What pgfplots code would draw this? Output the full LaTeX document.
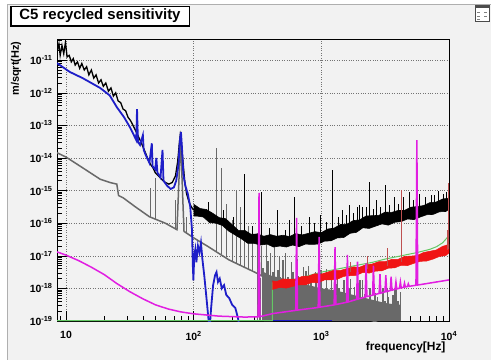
\documentclass[border=0pt]{standalone}
\usepackage{fontspec}
\setmainfont{Liberation Sans}
\usepackage{pgfplots}
\pgfplotsset{compat=1.18}
\definecolor{canvas}{RGB}{242,242,242}
\definecolor{edgegray}{RGB}{175,175,175}
\definecolor{sgray}{RGB}{105,105,105}
\definecolor{sblue}{RGB}{30,30,200}
\definecolor{smag}{RGB}{225,30,225}
\definecolor{sred}{RGB}{240,20,20}
\definecolor{sgreen}{RGB}{100,200,100}
\definecolor{sdred}{RGB}{190,80,80}
\begin{document}
\begin{tikzpicture}
\useasboundingbox (-57bp,-39bp) rectangle (434bp,321bp);
\fill[white] (-57bp,-39bp) rectangle (434bp,321bp);
\fill[canvas] (-50bp,-39bp) rectangle (434bp,317bp);
\draw[edgegray, line width=0.8bp] (-50bp,-39bp) -- (-50bp,317bp) -- (434bp,317bp);
\begin{axis}[
  at={(0,0)}, anchor=south west,
  width=392bp, height=282bp, scale only axis,
  xmode=log, ymode=log,
  log origin y=infty,
  xmin=8.5, xmax=10000, ymin=1e-19, ymax=4.47e-11,
  axis background/.style={fill=canvas},
  axis line style={black, line width=0.8bp},
  tick align=inside, tick pos=left,
  major tick length=10bp, minor tick length=5bp,
  every tick/.style={black, line width=0.6bp},
  grid=major,
  major grid style={dotted, black!55, line width=0.5bp},
  xtick={10,100,1000,10000},
  xticklabels={10,10\textsuperscript{2},10\textsuperscript{3},10\textsuperscript{4}},
  minor xtick={9,20,30,40,50,60,70,80,90,200,300,400,500,600,700,800,900,2000,3000,4000,5000,6000,7000,8000,9000},
  ytick={1e-19,1e-18,1e-17,1e-16,1e-15,1e-14,1e-13,1e-12,1e-11},
  yticklabels={10\textsuperscript{-19},10\textsuperscript{-18},10\textsuperscript{-17},10\textsuperscript{-16},10\textsuperscript{-15},10\textsuperscript{-14},10\textsuperscript{-13},10\textsuperscript{-12},10\textsuperscript{-11}},
  minor ytick={2e-19,3e-19,4e-19,5e-19,6e-19,7e-19,8e-19,9e-19,
    2e-18,3e-18,4e-18,5e-18,6e-18,7e-18,8e-18,9e-18,
    2e-17,3e-17,4e-17,5e-17,6e-17,7e-17,8e-17,9e-17,
    2e-16,3e-16,4e-16,5e-16,6e-16,7e-16,8e-16,9e-16,
    2e-15,3e-15,4e-15,5e-15,6e-15,7e-15,8e-15,9e-15,
    2e-14,3e-14,4e-14,5e-14,6e-14,7e-14,8e-14,9e-14,
    2e-13,3e-13,4e-13,5e-13,6e-13,7e-13,8e-13,9e-13,
    2e-12,3e-12,4e-12,5e-12,6e-12,7e-12,8e-12,9e-12,
    2e-11,3e-11,4e-11},
  ticklabel style={font=\fontsize{10.5}{12}\selectfont\bfseries},
  xticklabel style={yshift=-7bp},
  yticklabel style={xshift=-1bp},
  unbounded coords=jump,
]
% gray dense core
\addplot[fill=sgray, draw=none, mark=none] coordinates {
(355,3.16e-18)(398,2.51e-18)(501,2.0e-18)(631,1.58e-18)(794,1.26e-18)(1000,1.0e-18)(1259,8.91e-19)(1585,7.08e-19)(1995,5.62e-19)(2512,4.47e-19)(3162,3.55e-19)(3981,3.16e-19)(4169,3.16e-19)
} \closedcycle;
% gray hairy comb region
\addplot[ycomb, color=sgray, line width=1.8bp, mark=none] coordinates {
(316,3.55e-18)(331,2.14e-18)(347,4.17e-18)(363,1.58e-18)(380,6.76e-18)(398,2.29e-18)(417,3.16e-18)(437,1.51e-18)(457,3.63e-18)(479,2.24e-18)(501,7.59e-18)(525,1.45e-18)(550,2.24e-18)(575,1.51e-18)(603,3.24e-18)(631,8.71e-19)(661,2.40e-18)(692,1.82e-18)(724,1.10e-18)(759,3.39e-18)(794,1.29e-18)(832,1.74e-18)(871,8.51e-19)(912,2.04e-18)(955,1.23e-18)(1000,3.72e-18)(1047,8.13e-19)(1096,1.23e-18)(1148,8.32e-19)(1202,1.82e-18)(1259,5.50e-19)(1318,1.32e-18)(1380,1.02e-18)(1445,6.17e-19)(1514,1.86e-18)(1585,7.08e-19)(1660,9.77e-19)(1738,4.68e-19)(1820,1.12e-18)(1905,6.92e-19)(1995,1.86e-18)(2089,4.47e-19)(2188,6.92e-19)(2291,4.68e-19)(2399,1.0e-18)(2512,3.09e-19)(2630,7.41e-19)(2754,5.62e-19)(2884,3.47e-19)(3020,1.05e-18)(3162,3.98e-19)(3311,5.37e-19)(3467,2.63e-19)(3631,6.31e-19)(3802,9.55e-19)(3981,4.17e-19)(4169,7.94e-19)
};
% gray line
\addplot[color=sgray, line width=1.5bp, mark=none] coordinates {
(8.5,1.45e-14)(10,1.07e-14)(13.5,5.01e-15)(18.5,2.24e-15)(22,1.78e-15)(25,1.58e-15)(25.8,7.08e-16)(28,6.03e-16)(35,3.16e-16)(45,1.58e-16)(60,1.0e-16)(74,6.31e-17)(77,3.16e-15)(79,4.47e-14)(81,2.51e-15)(84,5.62e-17)(100,3.55e-17)(130,1.91e-17)(190,7.41e-18)(300,3.16e-18)(470,1.26e-18)(800,6.31e-19)(1200,3.16e-19)(2000,1.41e-19)(3000,7.94e-20)
};
% gray spikes
\addplot[color=sgray, line width=1bp, mark=none] coordinates {
(45.5,1.55e-16)(45.5,1.20e-15)(45.5,nan)
(50,1.26e-16)(50,2.51e-15)(50,nan)
(72,6.76e-17)(72,5.01e-16)(72,nan)
(88,5.01e-17)(88,1.58e-16)(88,nan)
(150,1.41e-17)(150,2.0e-14)(150,nan)
(165,1.12e-17)(165,5.01e-15)(165,nan)
(180,8.91e-18)(180,3.98e-16)(180,nan)
(200,6.61e-18)(200,1.26e-16)(200,nan)
(215,5.62e-18)(215,1.0e-15)(215,nan)
(232,5.01e-18)(232,3.16e-16)(232,nan)
(250,4.47e-18)(250,1.58e-16)(250,nan)
(270,3.80e-18)(270,7.94e-17)(270,nan)
(290,3.39e-18)(290,3.98e-17)(290,nan)
(315,2.82e-18)(315,5.01e-17)(315,nan)
(340,2.51e-18)(340,2.0e-17)(340,nan)
(370,2.09e-18)(370,2.51e-17)(370,nan)
(400,1.78e-18)(400,1.26e-17)(400,nan)
(430,1.58e-18)(430,2.0e-17)(430,nan)
(470,1.26e-18)(470,1.0e-17)(470,nan)
(520,1.12e-18)(520,1.26e-17)(520,nan)
(580,1.0e-18)(580,6.31e-18)(580,nan)
(650,9e-19)(650,7.94e-18)(650,nan)
(720,8e-19)(720,4.47e-18)(720,nan)
(800,7e-19)(800,5.01e-18)(800,nan)
(900,6e-19)(900,3.16e-18)(900,nan)
(1100,5e-19)(1100,3.98e-18)(1100,nan)
(1350,4e-19)(1350,2.51e-18)(1350,nan)
(1700,3e-19)(1700,2.0e-18)(1700,nan)
(2100,3e-19)(2100,1.78e-18)(2100,nan)
(2600,2e-19)(2600,1.26e-18)(2600,nan)
(3300,2e-19)(3300,1.0e-18)(3300,nan)
(3900,2e-19)(3900,1.12e-18)
};
% black low-frequency line
\addplot[color=black, line width=1.3bp, mark=none] coordinates {
(8.5,1.78e-11)(8.8,3.16e-11)(9.0,1.41e-11)(9.3,2.82e-11)(9.6,1.58e-11)(9.9,3.55e-11)(10.2,1.26e-11)(10.6,1.41e-11)(11.0,8.91e-12)(11.4,1.12e-11)(11.8,7.08e-12)(12.3,8.91e-12)(12.8,5.62e-12)(13.3,7.94e-12)(13.9,5.01e-12)(14.5,6.31e-12)(15.1,3.55e-12)(15.8,5.01e-12)(16.5,2.82e-12)(17.2,3.55e-12)(18.0,2.0e-12)(18.8,2.51e-12)(19.6,1.58e-12)(20.5,2.0e-12)(21.5,1.12e-12)(22.5,1.41e-12)(23.5,7.94e-13)(24.5,1.0e-12)(25.6,5.62e-13)(26.8,5.01e-13)(28,3.16e-13)(29.3,2.82e-13)(30.6,1.78e-13)(32,1.41e-13)(33.5,1.0e-13)(35,7.08e-14)(36.5,5.01e-14)(38,3.55e-14)(40,2.24e-14)(42,1.41e-14)(44,8.91e-15)(46,6.31e-15)(48,5.01e-15)(50,3.55e-15)(53,2.82e-15)(56,2.24e-15)(60,1.78e-15)(64,1.58e-15)(68,1.78e-15)(72,2.82e-15)(75,7.94e-15)(77,2.51e-14)(78.5,5.01e-14)(80,3.16e-14)(82,1.0e-14)(85,2.0e-15)(88,7.94e-16)(92,4.47e-16)(96,3.16e-16)(100,2.51e-16)
};
% black noise band
\addplot[color=black, fill=black, line width=0.6bp, mark=none] coordinates {
(100,3.80e-16)(112.2,2.82e-16)(125.9,2.63e-16)(141.3,2.0e-16)(158.5,1.48e-16)(177.8,1.38e-16)(199.5,9.12e-17)(223.9,6.03e-17)(251.2,6.03e-17)(281.8,4.57e-17)(316.2,4.68e-17)(354.8,3.98e-17)(398.1,4.47e-17)(446.7,3.98e-17)(501.2,4.27e-17)(562.3,3.89e-17)(631,4.79e-17)(707.9,4.37e-17)(794.3,4.90e-17)(891.3,5.50e-17)(1000,5.13e-17)(1122,6.61e-17)(1259,7.08e-17)(1413,9.12e-17)(1585,9.33e-17)(1778,1.20e-16)(1995,1.26e-16)(2239,1.66e-16)(2512,1.70e-16)(2818,1.74e-16)(3162,2.19e-16)(3548,2.14e-16)(3981,2.45e-16)(4467,2.45e-16)(5012,3.09e-16)(5623,3.24e-16)(6310,3.47e-16)(7079,4.27e-16)(7943,4.47e-16)(8913,5.50e-16)(10000,5.89e-16)
(10000,2.69e-16)(9441,2.29e-16)(8414,2.24e-16)(7499,1.86e-16)(6683,1.82e-16)(5957,1.55e-16)(5309,1.29e-16)(4732,1.35e-16)(4217,1.12e-16)(3758,1.07e-16)(3350,8.71e-17)(2985,9.55e-17)(2661,8.13e-17)(2371,6.92e-17)(2113,7.24e-17)(1884,5.25e-17)(1679,4.90e-17)(1496,3.63e-17)(1334,3.55e-17)(1189,2.88e-17)(1059,2.82e-17)(944,2.29e-17)(841,2.24e-17)(750,2.29e-17)(668,1.91e-17)(596,2.14e-17)(531,1.86e-17)(473,2.0e-17)(422,1.86e-17)(376,2.29e-17)(335,2.14e-17)(299,2.40e-17)(266,2.40e-17)(237,3.31e-17)(211,4.37e-17)(188,5.75e-17)(168,8.51e-17)(150,1.0e-16)(133,1.05e-16)(119,1.55e-16)(106,1.66e-16)(100,1.66e-16)
};
% black spikes
\addplot[color=black, line width=0.7bp, mark=none] coordinates {
(130,1.58e-16)(130,4.47e-16)(130,nan)
(170,9.5e-17)(170,2.51e-16)(170,nan)
(205,6.0e-17)(205,1.58e-16)(205,nan)
(250,3.8e-17)(250,3.16e-15)(250,nan)
(290,3.3e-17)(290,7.94e-17)(290,nan)
(340,3.16e-17)(340,9.12e-16)(340,nan)
(390,2.9e-17)(390,7.08e-17)(390,nan)
(450,2.82e-17)(450,2.51e-16)(450,nan)
(520,2.8e-17)(520,6.31e-17)(520,nan)
(560,2.8e-17)(560,1.26e-16)(560,nan)
(615,3.0e-17)(615,6.31e-16)(615,nan)
(700,3.2e-17)(700,7.94e-17)(700,nan)
(800,3.3e-17)(800,1.58e-16)(800,nan)
(880,3.5e-17)(880,1.0e-16)(880,nan)
(980,3.8e-17)(980,1.78e-16)(980,nan)
(1100,4.2e-17)(1100,1.12e-16)(1100,nan)
(1230,5.0e-17)(1230,4.27e-15)(1230,nan)
(1350,5.2e-17)(1350,1.58e-16)(1350,nan)
(1450,6.3e-17)(1450,2.51e-16)(1450,nan)
(1560,6.3e-17)(1560,1.78e-16)(1560,nan)
(1660,7.1e-17)(1660,3.63e-16)(1660,nan)
(1780,7.6e-17)(1780,2.0e-16)(1780,nan)
(1900,8.9e-17)(1900,3.16e-16)(1900,nan)
(2000,8.9e-17)(2000,3.55e-16)(2000,nan)
(2100,1.0e-16)(2100,3.16e-16)(2100,nan)
(2250,1.05e-16)(2250,3.16e-16)(2250,nan)
(2370,1.12e-16)(2370,1.82e-15)(2370,nan)
(2550,1.17e-16)(2550,2.82e-16)(2550,nan)
(2700,1.26e-16)(2700,5.01e-16)(2700,nan)
(2900,1.29e-16)(2900,3.16e-16)(2900,nan)
(3160,1.38e-16)(3160,1.48e-15)(3160,nan)
(3400,1.45e-16)(3400,3.55e-16)(3400,nan)
(3700,1.66e-16)(3700,6.31e-16)(3700,nan)
(4000,1.66e-16)(4000,3.98e-16)(4000,nan)
(4400,1.82e-16)(4400,6.31e-16)(4400,nan)
(4900,2.09e-16)(4900,9.12e-16)(4900,nan)
(5300,2.19e-16)(5300,5.01e-16)(5300,nan)
(5900,2.4e-16)(5900,7.94e-16)(5900,nan)
(6500,2.63e-16)(6500,6.31e-16)(6500,nan)
(7250,2.82e-16)(7250,7.41e-16)(7250,nan)
(7700,3.02e-16)(7700,7.08e-16)(7700,nan)
(8300,3.3e-16)(8300,1.0e-15)(8300,nan)
(9000,3.55e-16)(9000,7.94e-16)(9000,nan)
(9500,3.7e-16)(9500,8.91e-16)
};
% blue
\addplot[color=sblue, line width=1.8bp, mark=none] coordinates {
(8.5,8.13e-12)(10.7,4.37e-12)(13.5,2.82e-12)(18.5,1.41e-12)(22,8.32e-13)(25,3.63e-13)(28.5,1.78e-13)(31.6,8.91e-14)(34,5.01e-14)(35.5,3.55e-14)(36,3.16e-13)(36.6,3.16e-14)(38,2.51e-14)(40,5.01e-14)(40.6,1.78e-14)(42,1.26e-14)(45,7.08e-15)(47,2.82e-14)(47.6,5.62e-15)(50,4.47e-15)(51,1.0e-14)(52,3.55e-15)(55,2.51e-15)(57,1.78e-14)(58,2.0e-15)(62,1.41e-15)(66,1.12e-15)(70,1.26e-15)(73,2.0e-15)(76,6.31e-15)(78,3.55e-14)(79.5,6.31e-14)(81,2.0e-14)(83,3.16e-15)(86,1.41e-15)(90,7.94e-16)(94,3.16e-16)(97,6.31e-17)(98.5,5.01e-18)(99.5,1.78e-18)(101,1.0e-17)(103,1.58e-17)(105,6.31e-18)(108,2.0e-17)(111,1.26e-17)(114,2.51e-17)(117,7.94e-18)(121,2.51e-18)(126,5.01e-19)(131,1.0e-19)(133,5.01e-20)(137,2.51e-19)(142,1.26e-18)(147,2.51e-18)(151,3.16e-18)(155,1.58e-18)(160,2.0e-18)(166,1.0e-18)(173,1.26e-18)(180,6.31e-19)(190,5.01e-19)(200,3.16e-19)(212,2.51e-19)(222,1.26e-19)(232,5.01e-20)
};
\addplot[color=sblue, line width=1.2bp, mark=none] coordinates {(232,1.03e-19)(1220,1.03e-19)};
% green
\addplot[color=sgreen, line width=1bp, mark=none] coordinates {
(8.5,1.03e-19)(414,1.03e-19)(414,1.48e-18)(500,1.66e-18)(631,1.91e-18)(1000,3.16e-18)(1585,4.47e-18)(2512,6.31e-18)(3162,7.94e-18)(5623,1.26e-17)(7079,1.58e-17)(8000,1.91e-17)(8913,2.51e-17)(10000,4.17e-17)
};
% red band
\addplot[color=sred, fill=sred, line width=0.5bp, mark=none] coordinates {
(414,1.70e-18)(447,1.62e-18)(501,1.95e-18)(562,1.91e-18)(631,1.95e-18)(708,2.34e-18)(794,2.40e-18)(891,2.82e-18)(1000,2.75e-18)(1122,3.16e-18)(1259,3.63e-18)(1413,3.55e-18)(1585,4.07e-18)(1778,4.57e-18)(1995,4.47e-18)(2239,5.37e-18)(2512,5.62e-18)(2818,6.61e-18)(3162,6.61e-18)(3548,7.76e-18)(3981,7.76e-18)(4467,9.55e-18)(5012,9.77e-18)(5623,1.02e-17)(6310,1.26e-17)(7079,1.38e-17)(7943,1.51e-17)(8913,1.95e-17)(10000,2.24e-17)
(10000,1.23e-17)(9441,1.02e-17)(8414,9.55e-18)(7499,7.94e-18)(6683,6.92e-18)(5957,6.76e-18)(5309,5.89e-18)(4732,5.01e-18)(4217,5.13e-18)(3758,4.27e-18)(3350,4.17e-18)(2985,3.47e-18)(2661,3.39e-18)(2371,2.95e-18)(2113,3.09e-18)(1884,2.51e-18)(1679,2.45e-18)(1496,2.34e-18)(1334,1.91e-18)(1189,1.82e-18)(1059,1.82e-18)(944,1.48e-18)(841,1.51e-18)(750,1.29e-18)(668,1.29e-18)(596,1.15e-18)(531,1.02e-18)(473,1.07e-18)(414,9.33e-19)
};
% dark red spikes
\addplot[color=sdred, line width=0.9bp, mark=none] coordinates {
(4220,6.3e-18)(4220,1.05e-15)(4220,nan)
(9900,1.6e-17)(9900,1.70e-15)(9900,nan)
(3300,5.0e-18)(3300,1.78e-17)(3300,nan)
(9700,1.5e-17)(9700,6.31e-17)(9700,nan)
(2300,4.0e-18)(2300,1.0e-17)(2300,nan)
(1700,3.2e-18)(1700,6.31e-18)
};
% magenta
\addplot[color=smag, line width=1.5bp, mark=none] coordinates {
(8.5,1.32e-17)(10,1.05e-17)(12.6,7.08e-18)(15.8,4.47e-18)(20,2.63e-18)(25,1.41e-18)(31.6,7.94e-19)(40,4.79e-19)(50,3.16e-19)(63,2.34e-19)(79,1.91e-19)(100,1.66e-19)(158,1.41e-19)(251,1.32e-19)
(320,1.35e-19)(325,8.51e-16)(330,1.36e-19)
(420,1.70e-19)
(630,2.12e-19)(640,1.45e-16)(650,2.16e-19)
(945,2.60e-19)(960,3.80e-17)(975,2.66e-19)
(1260,3.12e-19)(1280,1.86e-17)(1300,3.20e-19)
(1575,3.75e-19)(1600,1.07e-17)(1625,3.85e-19)
(1890,4.6e-19)(1920,6.61e-18)(1950,4.75e-19)
(2205,5.4e-19)(2240,5.89e-18)(2275,5.6e-19)
(2520,6.2e-19)(2560,5.01e-18)(2600,6.4e-19)
(2835,7.0e-19)(2880,2.75e-18)(2925,7.15e-19)
(3150,7.85e-19)(3200,2.57e-18)(3250,8.0e-19)
(3465,8.6e-19)(3520,2.29e-18)(3575,8.8e-19)
(3780,9.45e-19)(3840,1.58e-18)(3900,9.65e-19)
(4095,1.01e-18)(4160,1.58e-18)(4225,1.03e-18)
(4410,1.09e-18)(4480,1.45e-18)(4550,1.11e-18)
(4725,1.14e-18)(4800,1.38e-18)(4875,1.16e-18)
(5510,1.25e-18)(5600,3.55e-14)(5690,1.27e-18)
(10000,1.82e-18)
};
\end{axis}
% axis labels
\node[anchor=base east, font=\fontsize{12}{14}\selectfont\bfseries] at (392bp,-29bp) {frequency[Hz]};
\node[rotate=90, anchor=east, font=\fontsize{11}{13}\selectfont\bfseries] at (-41bp,283bp) {m/sqrt(Hz)};
% title box
\fill[white] (-46bp,295bp) rectangle (132bp,315bp);
\draw[black, line width=0.8bp] (-46bp,295bp) rectangle (132bp,315bp);
\fill[black] (-47bp,294bp) rectangle (-45bp,315bp);
\fill[black] (-47bp,294bp) rectangle (132bp,296bp);
\node[font=\fontsize{15}{18}\selectfont\bfseries] at (43bp,305bp) {C5 recycled sensitivity};
% window icon
\draw[black!70, fill=white, line width=0.6bp] (418bp,300bp) rectangle (432bp,316bp);
\fill[black!70] (418bp,313bp) rectangle (432bp,316bp);
\draw[black!50, line width=0.5bp] (420bp,309bp) -- (423bp,309bp) (427bp,309bp) -- (430bp,309bp) (420bp,305bp) -- (423bp,305bp) (427bp,305bp) -- (430bp,305bp) (420bp,302bp) -- (423bp,302bp);
\end{tikzpicture}
\end{document}
